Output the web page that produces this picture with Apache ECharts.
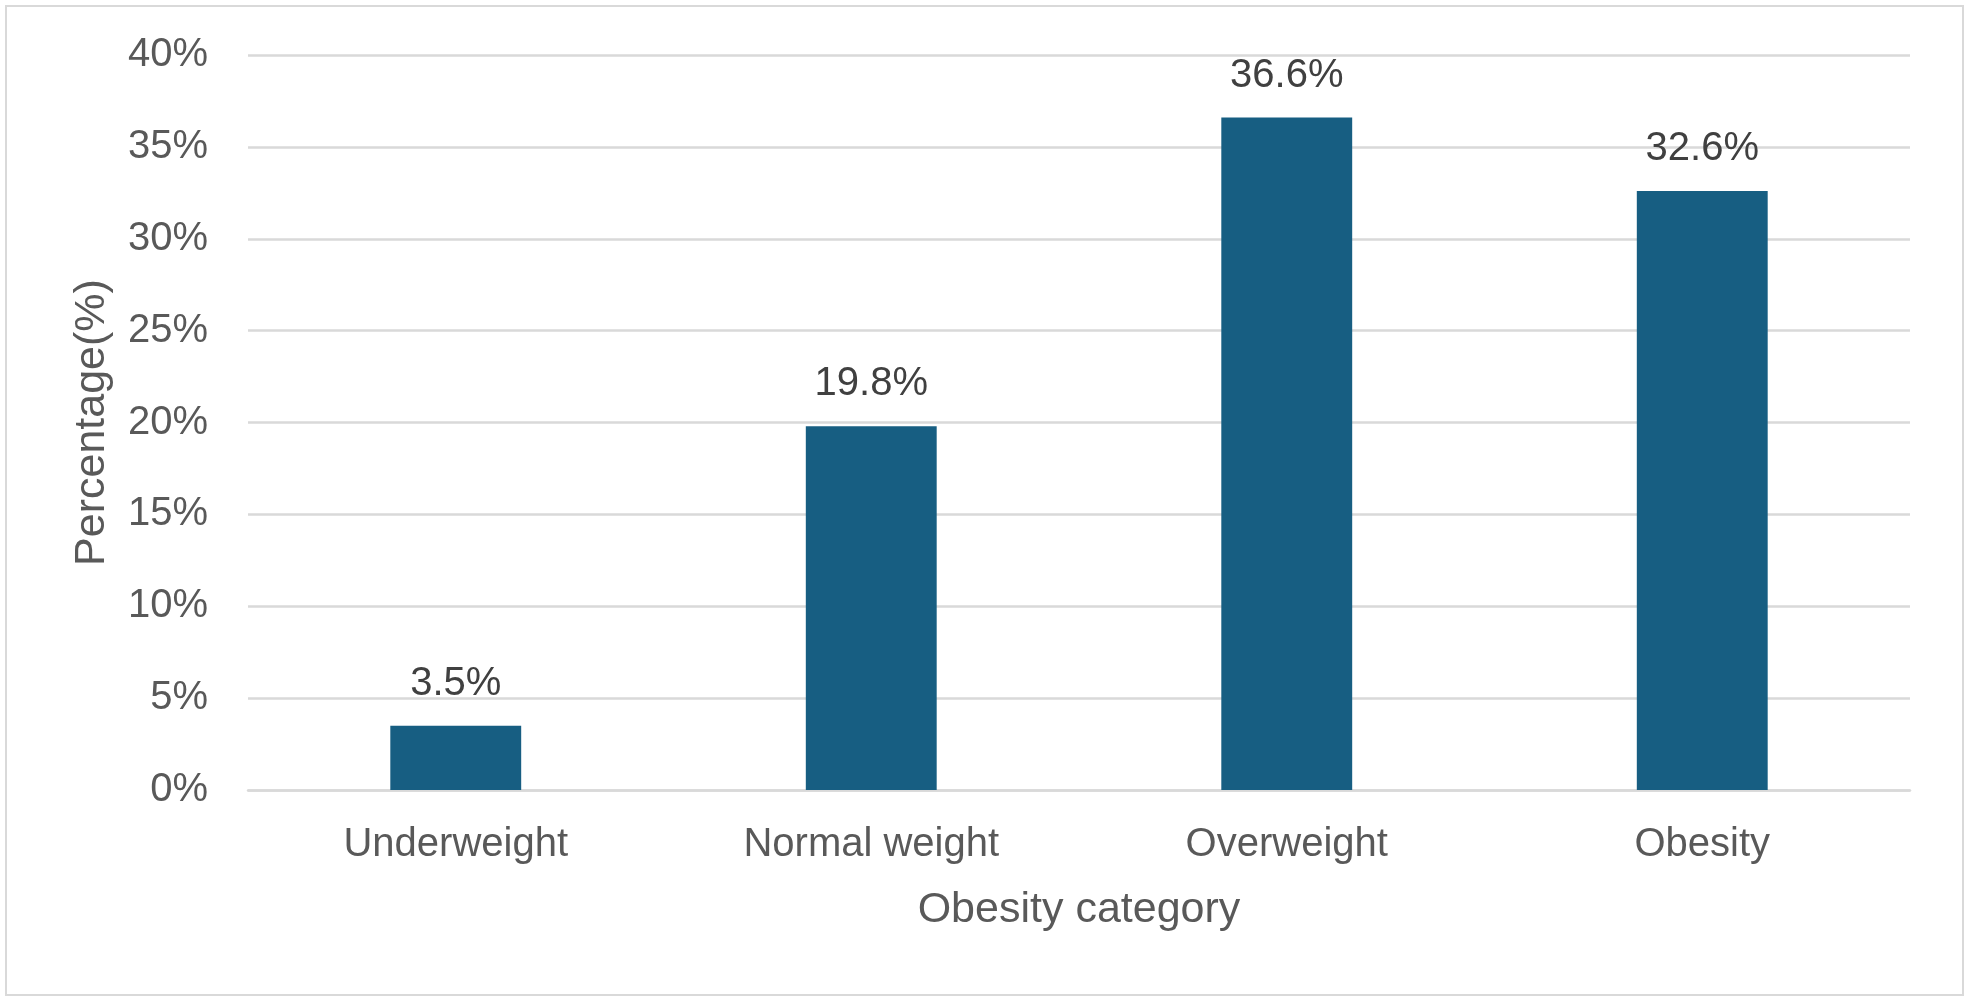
<!DOCTYPE html>
<html>
<head>
<meta charset="utf-8">
<script src="https://cdn.jsdelivr.net/npm/echarts@6/dist/echarts.min.js"></script>
<style>
html,body{margin:0;padding:0;background:#fff;}
#chart{width:1970px;height:1003px;}
</style>
</head>
<body>
<div id="chart"></div>
<script>
const categories = ['Underweight', 'Normal weight', 'Overweight', 'Obesity'];
const percentages = [3.5, 19.8, 36.6, 32.6];
const yTicks = { min: 0, max: 40, interval: 5 };

const chart = echarts.init(document.getElementById('chart'), null, { renderer: 'canvas' });
const font = '"Liberation Sans", Arial, sans-serif';
chart.setOption({
  animation: false,
  backgroundColor: '#ffffff',
  graphic: [{
    type: 'rect',
    shape: { x: 6, y: 6, width: 1957, height: 989 },
    style: { fill: 'none', stroke: '#D9D9D9', lineWidth: 2 },
    silent: true
  }],
  grid: { left: 248, right: 60, top: 55, bottom: 213, containLabel: false },
  xAxis: {
    type: 'category',
    data: categories,
    name: 'Obesity category',
    nameLocation: 'middle',
    nameGap: 99,
    nameTextStyle: { fontFamily: font, fontSize: 43, color: '#595959' },
    axisLine: { show: true, lineStyle: { color: '#D9D9D9', width: 2.5 } },
    axisTick: { show: false },
    axisLabel: { fontFamily: font, fontSize: 40, color: '#595959', margin: 35 }
  },
  yAxis: {
    type: 'value',
    min: yTicks.min,
    max: yTicks.max,
    interval: yTicks.interval,
    name: 'Percentage(%)',
    nameLocation: 'middle',
    nameGap: 134,
    nameTextStyle: { fontFamily: font, fontSize: 43, color: '#595959' },
    axisLine: { show: false },
    axisTick: { show: false },
    axisLabel: { fontFamily: font, fontSize: 40, color: '#595959', margin: 40, formatter: '{value}%' },
    splitLine: { lineStyle: { color: '#D9D9D9', width: 2.5 } }
  },
  series: [{
    type: 'bar',
    data: percentages,
    barWidth: '31.5%',
    itemStyle: { color: '#175E82' },
    label: {
      show: true,
      position: 'top',
      distance: 22,
      fontFamily: font,
      fontSize: 40,
      color: '#404040',
      formatter: p => p.value.toFixed(1) + '%'
    }
  }]
});
</script>
</body>
</html>
